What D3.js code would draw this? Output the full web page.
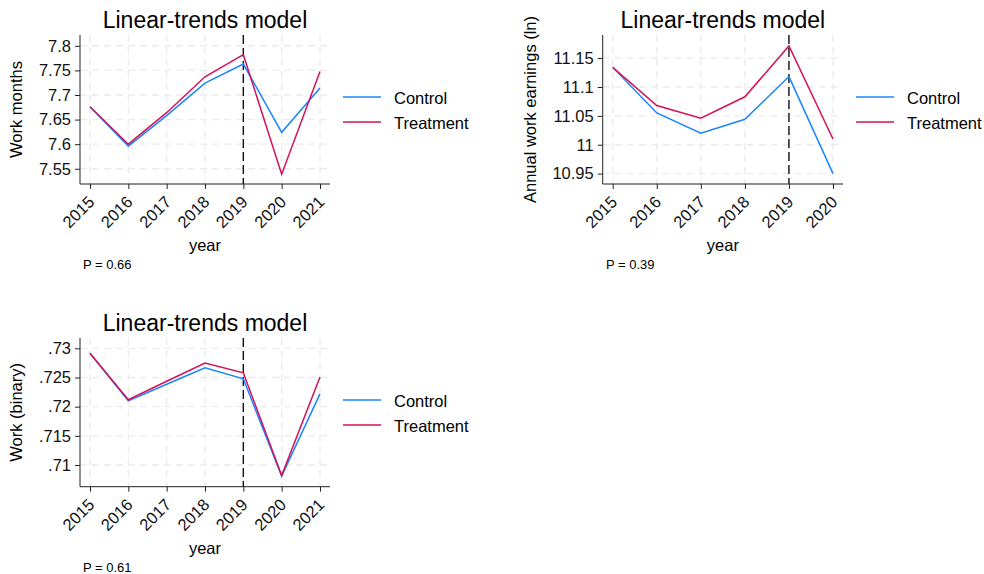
<!DOCTYPE html>
<html>
<head>
<meta charset="utf-8">
<script src="https://cdn.jsdelivr.net/npm/d3@7"></script>
<style>
  body { margin: 0; background: #fff; }
  svg { display: block; font-family: "Liberation Sans", Arial, Helvetica, sans-serif; }
</style>
</head>
<body>
<svg id="chart" width="984" height="574"></svg>
<script>
// ---- data ----
const years7 = [2015, 2016, 2017, 2018, 2019, 2020, 2021];
const years6 = [2015, 2016, 2017, 2018, 2019, 2020];

const monthsControl   = [7.676, 7.596, 7.658, 7.724, 7.763, 7.624, 7.714];
const monthsTreatment = [7.676, 7.600, 7.664, 7.737, 7.782, 7.539, 7.748];
const monthsTicks  = [7.55, 7.6, 7.65, 7.7, 7.75, 7.8];
const monthsLabels = ["7.55", "7.6", "7.65", "7.7", "7.75", "7.8"];

const earnControl   = [11.134, 11.055, 11.020, 11.044, 11.118, 10.950];
const earnTreatment = [11.134, 11.068, 11.046, 11.083, 11.171, 11.010];
const earnTicks  = [10.95, 11, 11.05, 11.1, 11.15];
const earnLabels = ["10.95", "11", "11.05", "11.1", "11.15"];

const workControl   = [0.72914, 0.72098, 0.72385, 0.72668, 0.72478, 0.70810, 0.72219];
const workTreatment = [0.72914, 0.72119, 0.72435, 0.72748, 0.72580, 0.70818, 0.72507];
const workTicks  = [0.71, 0.715, 0.72, 0.725, 0.73];
const workLabels = [".71", ".715", ".72", ".725", ".73"];

const seriesNames = ["Control", "Treatment"];
const policyYear = 2019;
const titleText = "Linear-trends model";
const xTitle = "year";

// ---- styles ----
const colors = { Control: "#1a85ff", Treatment: "#d41159" };
const axisColor = "#222";
const gridColor = "#ebebeb";
const fontMain = 16.5;

const svg = d3.select("#chart");

function drawPanel(cfg) {
  const g = svg.append("g");
  const { left, right, top, bottom } = cfg.box;

  const x = d3.scaleLinear()
    .domain([cfg.years[0], cfg.years[cfg.years.length - 1]])
    .range([left + 10, right - 10]);
  const y = d3.scaleLinear().domain(cfg.yDomain).range([bottom, top]);

  // grid
  g.selectAll(".hgrid").data(cfg.ticks).join("line")
    .attr("x1", left).attr("x2", right)
    .attr("y1", d => y(d)).attr("y2", d => y(d))
    .attr("stroke", gridColor).attr("stroke-width", 1.4)
    .attr("stroke-dasharray", "7,5");
  g.selectAll(".vgrid").data(cfg.years).join("line")
    .attr("x1", d => x(d)).attr("x2", d => x(d))
    .attr("y1", top).attr("y2", bottom)
    .attr("stroke", gridColor).attr("stroke-width", 1.4)
    .attr("stroke-dasharray", "7,5");

  // y axis
  const yAxis = d3.axisLeft(y)
    .tickValues(cfg.ticks)
    .tickFormat((d, i) => cfg.tickLabels[i])
    .tickSize(5).tickSizeOuter(0).tickPadding(4);
  const ya = g.append("g").attr("transform", `translate(${left},0)`).call(yAxis);
  ya.select(".domain").attr("d", `M0,${top}V${bottom}`).attr("stroke", axisColor);
  ya.selectAll(".tick line").attr("stroke", axisColor);
  ya.selectAll(".tick text").attr("font-size", fontMain).attr("fill", "#111")
    .style("font-family", "'Liberation Sans', Arial, sans-serif");

  // x axis
  const xAxis = d3.axisBottom(x)
    .tickValues(cfg.years)
    .tickFormat(d3.format("d"))
    .tickSize(5).tickSizeOuter(0);
  const xa = g.append("g").attr("transform", `translate(0,${bottom})`).call(xAxis);
  xa.select(".domain").attr("d", `M${left},0H${right}`).attr("stroke", axisColor);
  xa.selectAll(".tick line").attr("stroke", axisColor);
  xa.selectAll(".tick text")
    .attr("font-size", 16.5).attr("fill", "#111")
    .style("font-family", "'Liberation Sans', Arial, sans-serif")
    .attr("text-anchor", "end")
    .attr("dy", null).attr("y", 0)
    .attr("transform", "translate(5,19) rotate(-45)");

  // treatment-start marker
  g.append("line")
    .attr("x1", x(policyYear)).attr("x2", x(policyYear))
    .attr("y1", top).attr("y2", bottom)
    .attr("stroke", "#111").attr("stroke-width", 1.4)
    .attr("stroke-dasharray", "9,4");

  // series lines
  const line = d3.line().x((d, i) => x(cfg.years[i])).y(d => y(d));
  seriesNames.forEach(name => {
    g.append("path")
      .datum(cfg.series[name])
      .attr("d", line)
      .attr("fill", "none")
      .attr("stroke", colors[name])
      .attr("stroke-width", 1.5)
      .attr("stroke-linejoin", "miter");
  });

  // titles
  const cx = (left + right) / 2;
  g.append("text").attr("x", cx).attr("y", top - 7)
    .attr("text-anchor", "middle").attr("font-size", 23).attr("fill", "#000")
    .text(titleText);
  g.append("text").attr("x", cx).attr("y", bottom + 67)
    .attr("text-anchor", "middle").attr("font-size", fontMain).attr("fill", "#000")
    .text(xTitle);
  g.append("text")
    .attr("transform", `translate(${cfg.yTitleX},${(top + bottom) / 2}) rotate(-90)`)
    .attr("text-anchor", "middle").attr("font-size", fontMain).attr("fill", "#000")
    .text(cfg.yTitle);
  g.append("text").attr("x", cfg.noteX).attr("y", bottom + 85)
    .attr("font-size", 13).attr("fill", "#000")
    .text(cfg.note);

  // legend
  seriesNames.forEach((name, i) => {
    const ly = cfg.legend.y + i * 25;
    g.append("line")
      .attr("x1", cfg.legend.x).attr("x2", cfg.legend.x + 38)
      .attr("y1", ly).attr("y2", ly)
      .attr("stroke", colors[name]).attr("stroke-width", 1.5);
    g.append("text")
      .attr("x", cfg.legend.x + 51).attr("y", ly + 6.5)
      .attr("font-size", fontMain).attr("fill", "#000")
      .text(name);
  });
}

drawPanel({
  box: { left: 80, right: 330, top: 35, bottom: 184 },
  years: years7,
  yDomain: [7.519, 7.822],
  ticks: monthsTicks, tickLabels: monthsLabels,
  series: { Control: monthsControl, Treatment: monthsTreatment },
  yTitle: "Work months", yTitleX: 22,
  note: "P = 0.66", noteX: 83,
  legend: { x: 343, y: 97 }
});

drawPanel({
  box: { left: 602.7, right: 843, top: 35, bottom: 184 },
  years: years6,
  yDomain: [10.932, 11.19],
  ticks: earnTicks, tickLabels: earnLabels,
  series: { Control: earnControl, Treatment: earnTreatment },
  yTitle: "Annual work earnings (ln)", yTitleX: 536,
  note: "P = 0.39", noteX: 606,
  legend: { x: 856, y: 97 }
});

drawPanel({
  box: { left: 80, right: 330, top: 338, bottom: 486.7 },
  years: years7,
  yDomain: [0.70628, 0.73177],
  ticks: workTicks, tickLabels: workLabels,
  series: { Control: workControl, Treatment: workTreatment },
  yTitle: "Work (binary)", yTitleX: 22,
  note: "P = 0.61", noteX: 83,
  legend: { x: 343, y: 400 }
});
</script>
</body>
</html>
